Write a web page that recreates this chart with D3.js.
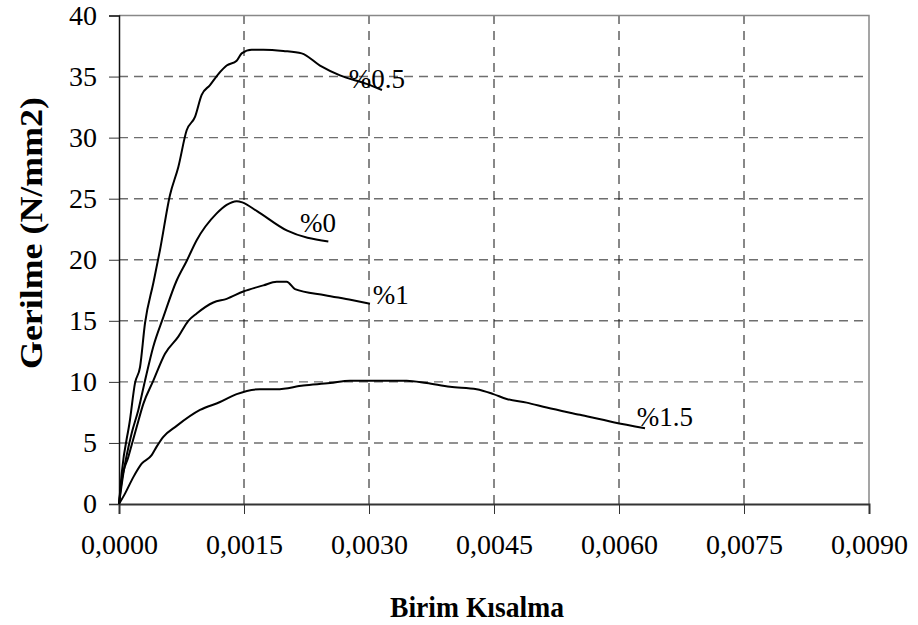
<!DOCTYPE html>
<html>
<head>
<meta charset="utf-8">
<script src="https://cdn.jsdelivr.net/npm/d3@7"></script>
<style>
  html, body { margin: 0; padding: 0; background: #fff; }
  svg { display: block; font-family: "Liberation Serif", "Times New Roman", serif; }
</style>
</head>
<body>
<svg id="chart" width="918" height="625"></svg>
<script>
// Stress–strain curves for different fibre ratios
const xTicks = [0, 0.0015, 0.003, 0.0045, 0.006, 0.0075, 0.009];
const yTicks = [0, 5, 10, 15, 20, 25, 30, 35, 40];

const strain05 = [0, 0.000032, 0.000132, 0.000192, 0.000252, 0.000312, 0.000412, 0.000492, 0.000612, 0.000712, 0.000812, 0.000912, 0.000992, 0.001092, 0.001192, 0.001292, 0.001412, 0.001472, 0.001592, 0.001732, 0.001972, 0.002192, 0.002412, 0.002652, 0.002972, 0.003156];
const stress05 = [0, 2.5, 6.9, 9.9, 11.2, 14.8, 18.1, 20.8, 25.3, 27.6, 30.6, 31.7, 33.5, 34.3, 35.2, 35.9, 36.3, 36.9, 37.2, 37.2, 37.1, 36.9, 35.9, 35.1, 34.4, 33.9];

const strain0 = [0, 0.000052, 0.000152, 0.000232, 0.000312, 0.000412, 0.000532, 0.000692, 0.000812, 0.000932, 0.001172, 0.001292, 0.001412, 0.001480, 0.001652, 0.002012, 0.002512];
const stress0 = [0, 2.5, 5.8, 7.7, 10.1, 12.9, 15.3, 18.3, 19.9, 21.6, 23.8, 24.5, 24.8, 24.7, 24.0, 22.4, 21.5];

const strain1 = [0, 0.000032, 0.000112, 0.000212, 0.000292, 0.000412, 0.000552, 0.000712, 0.000832, 0.000932, 0.001132, 0.001292, 0.001492, 0.001732, 0.001892, 0.002012, 0.002112, 0.002472, 0.002792, 0.003012];
const stress1 = [0, 1.9, 3.85, 6.3, 8.2, 10.1, 12.3, 13.7, 15.0, 15.6, 16.5, 16.8, 17.4, 17.9, 18.2, 18.2, 17.6, 17.1, 16.7, 16.4];

const strain15 = [0, 0.000072, 0.000172, 0.000272, 0.000392, 0.000452, 0.000532, 0.000692, 0.000972, 0.001212, 0.001412, 0.001692, 0.001892, 0.002212, 0.002532, 0.002772, 0.003012, 0.003132, 0.003452, 0.003692, 0.003972, 0.004292, 0.004492, 0.004652, 0.004892, 0.005132, 0.005532, 0.005932, 0.006312];
const stress15 = [0, 0.85, 2.2, 3.3, 4.0, 4.7, 5.5, 6.4, 7.7, 8.35, 9.0, 9.4, 9.4, 9.7, 9.9, 10.1, 10.1, 10.1, 10.1, 9.9, 9.6, 9.4, 9.0, 8.6, 8.3, 7.9, 7.3, 6.7, 6.2];

const seriesNames = ["%0.5", "%0", "%1", "%1.5"];
const labelStrain = [0.002756, 0.002172, 0.003044, 0.006212];
const labelStress = [34.1, 22.3, 16.4, 6.4];

const series = [
  { name: seriesNames[0], x: strain05, y: stress05 },
  { name: seriesNames[1], x: strain0,  y: stress0 },
  { name: seriesNames[2], x: strain1,  y: stress1 },
  { name: seriesNames[3], x: strain15, y: stress15 }
];

const svg = d3.select("#chart");
const margin = { left: 119, right: 49, top: 15.5, bottom: 121 };
const W = 918, H = 625;

const x = d3.scaleLinear().domain([0, 0.009]).range([margin.left, W - margin.right]);
const y = d3.scaleLinear().domain([0, 40]).range([H - margin.bottom, margin.top]);

const fmtX = v => d3.format(".4f")(v).replace(".", ",");

// horizontal grid (grey dashes)
svg.append("g")
  .selectAll("line")
  .data(yTicks.filter(d => d > 0 && d < 40))
  .join("line")
  .attr("x1", x(0)).attr("x2", x(0.009))
  .attr("y1", d => y(d)).attr("y2", d => y(d))
  .attr("stroke", "#6e6e6e").attr("stroke-width", 1.4)
  .attr("stroke-dasharray", "9,6");

// vertical grid (dark dashes)
svg.append("g")
  .selectAll("line")
  .data(xTicks.filter(d => d > 0 && d < 0.009))
  .join("line")
  .attr("x1", d => x(d)).attr("x2", d => x(d))
  .attr("y1", y(0)).attr("y2", y(40))
  .attr("stroke", "#111").attr("stroke-width", 1)
  .attr("stroke-dasharray", "9,7");

// top and right frame
svg.append("path")
  .attr("d", `M${x(0)},${y(40)}H${x(0.009)}V${y(0)}`)
  .attr("fill", "none").attr("stroke", "#888").attr("stroke-width", 1.5);

// axes
const yAxis = d3.axisLeft(y).tickValues(yTicks).tickSize(10).tickPadding(12).tickFormat(d3.format("d"));
const gy = svg.append("g").attr("transform", `translate(${x(0)},0)`).call(yAxis);
gy.select(".domain").attr("stroke", "#111").attr("stroke-width", 1.5);
gy.selectAll(".tick line").attr("stroke", "#333").attr("stroke-width", 1);
gy.selectAll(".tick text")
  .attr("font-size", 28).attr("fill", "#000")
  .attr("font-family", "Liberation Serif, serif");

const xAxis = d3.axisBottom(x).tickValues(xTicks).tickSize(10).tickPadding(20).tickFormat(fmtX);
const gx = svg.append("g").attr("transform", `translate(0,${y(0)})`).call(xAxis);
gx.select(".domain").attr("stroke", "#333").attr("stroke-width", 2);
gx.selectAll(".tick line").attr("stroke", "#333").attr("stroke-width", 1);
gx.selectAll(".tick text")
  .attr("font-size", 28).attr("fill", "#000")
  .attr("font-family", "Liberation Serif, serif");

// curves
const line = d3.line().x(d => x(d[0])).y(d => y(d[1])).curve(d3.curveMonotoneX);
svg.append("g")
  .selectAll("path")
  .data(series)
  .join("path")
  .attr("d", s => line(d3.zip(s.x, s.y)))
  .attr("fill", "none").attr("stroke", "#000").attr("stroke-width", 2)
  .attr("stroke-linejoin", "round");

// curve labels
svg.append("g")
  .selectAll("text")
  .data(seriesNames)
  .join("text")
  .attr("x", (d, i) => x(labelStrain[i]))
  .attr("y", (d, i) => y(labelStress[i]))
  .attr("font-size", 27)
  .text(d => d);

// axis titles
svg.append("text")
  .attr("x", 477).attr("y", 617)
  .attr("text-anchor", "middle")
  .attr("font-size", 30).attr("font-weight", "bold")
  .attr("textLength", 174).attr("lengthAdjust", "spacingAndGlyphs")
  .text("Birim Kısalma");

svg.append("text")
  .attr("transform", "translate(42,233) rotate(-90)")
  .attr("text-anchor", "middle")
  .attr("font-size", 32).attr("font-weight", "bold")
  .attr("textLength", 272).attr("lengthAdjust", "spacingAndGlyphs")
  .text("Gerilme (N/mm2)");
</script>
</body>
</html>
